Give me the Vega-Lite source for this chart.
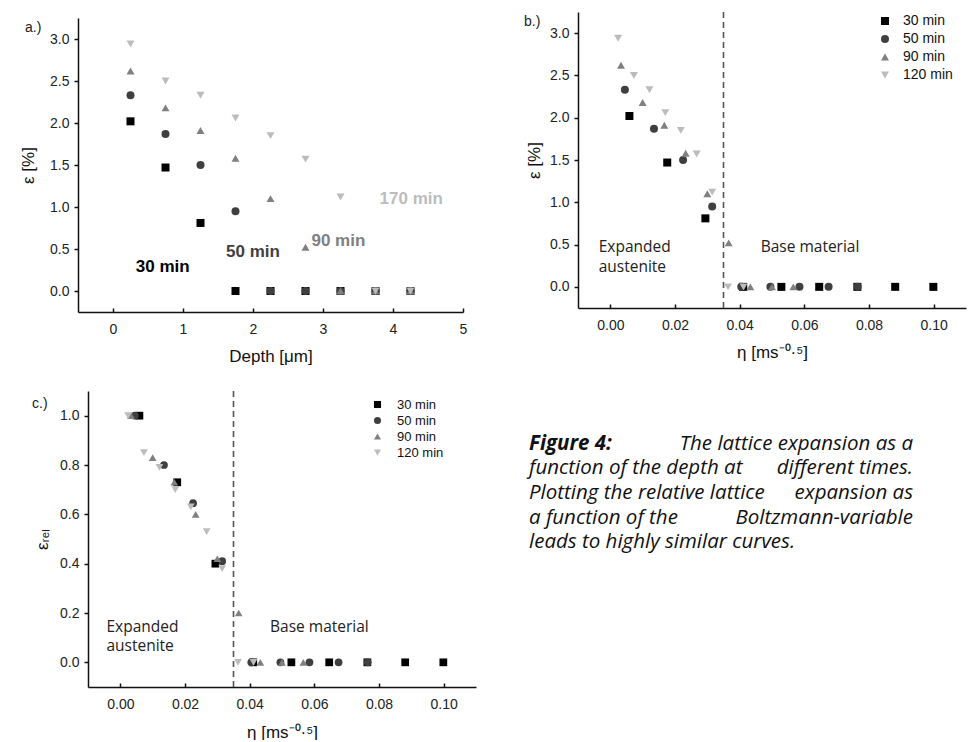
{
  "$schema": "https://vega.github.io/schema/vega-lite/v6.json",
  "background": "white",
  "padding": {"left": 19, "top": 11, "right": 2, "bottom": 0},
  "config": {
    "font": "Liberation Sans",
    "view": {"stroke": null},
    "axis": {
      "grid": false,
      "domainColor": "#111111",
      "domainWidth": 1.5,
      "tickColor": "#111111",
      "tickWidth": 1.5,
      "labelFont": "Liberation Sans",
      "labelFontSize": 14,
      "labelColor": "#222222",
      "labelOverlap": false,
      "labelFlush": false,
      "titleFont": "Liberation Sans",
      "titleFontSize": 17,
      "titleFontWeight": "normal",
      "titleColor": "#111111"
    },
    "axisX": {"labelPadding": 14, "titlePadding": 12, "tickSize": -4},
    "axisY": {"labelPadding": 5, "titlePadding": 10, "tickSize": 4},
    "legend": {"title": null, "labelFontSize": 14, "labelColor": "#111111", "symbolSize": 64, "symbolStrokeWidth": 0, "padding": 0, "rowPadding": 4, "labelOffset": 11}
  },
  "datasets": {
    "pts": [
      {"t": "30 min", "d": 0.25, "eta": 0.0059, "eps": 2.02, "rel": 1.0},
      {"t": "30 min", "d": 0.75, "eta": 0.0176, "eps": 1.47, "rel": 0.73},
      {"t": "30 min", "d": 1.25, "eta": 0.0294, "eps": 0.81, "rel": 0.40},
      {"t": "30 min", "d": 1.75, "eta": 0.0411, "eps": 0, "rel": 0},
      {"t": "30 min", "d": 2.25, "eta": 0.0529, "eps": 0, "rel": 0},
      {"t": "30 min", "d": 2.75, "eta": 0.0646, "eps": 0, "rel": 0},
      {"t": "30 min", "d": 3.25, "eta": 0.0764, "eps": 0, "rel": 0},
      {"t": "30 min", "d": 3.75, "eta": 0.0881, "eps": 0, "rel": 0},
      {"t": "30 min", "d": 4.25, "eta": 0.0999, "eps": 0, "rel": 0},
      {"t": "50 min", "d": 0.25, "eta": 0.0045, "eps": 2.33, "rel": 1.0},
      {"t": "50 min", "d": 0.75, "eta": 0.0135, "eps": 1.87, "rel": 0.80},
      {"t": "50 min", "d": 1.25, "eta": 0.0225, "eps": 1.50, "rel": 0.645},
      {"t": "50 min", "d": 1.75, "eta": 0.0315, "eps": 0.95, "rel": 0.41},
      {"t": "50 min", "d": 2.25, "eta": 0.0405, "eps": 0, "rel": 0},
      {"t": "50 min", "d": 2.75, "eta": 0.0495, "eps": 0, "rel": 0},
      {"t": "50 min", "d": 3.25, "eta": 0.0585, "eps": 0, "rel": 0},
      {"t": "50 min", "d": 3.75, "eta": 0.0675, "eps": 0, "rel": 0},
      {"t": "50 min", "d": 4.25, "eta": 0.0765, "eps": 0, "rel": 0},
      {"t": "90 min", "d": 0.25, "eta": 0.0033, "eps": 2.62, "rel": 1.0},
      {"t": "90 min", "d": 0.75, "eta": 0.0100, "eps": 2.18, "rel": 0.83},
      {"t": "90 min", "d": 1.25, "eta": 0.0167, "eps": 1.91, "rel": 0.73},
      {"t": "90 min", "d": 1.75, "eta": 0.0233, "eps": 1.58, "rel": 0.60},
      {"t": "90 min", "d": 2.25, "eta": 0.0300, "eps": 1.10, "rel": 0.42},
      {"t": "90 min", "d": 2.75, "eta": 0.0366, "eps": 0.52, "rel": 0.20},
      {"t": "90 min", "d": 3.25, "eta": 0.0433, "eps": 0, "rel": 0},
      {"t": "90 min", "d": 3.75, "eta": 0.0500, "eps": 0, "rel": 0},
      {"t": "90 min", "d": 4.25, "eta": 0.0566, "eps": 0, "rel": 0},
      {"t": "120 min", "d": 0.25, "eta": 0.0024, "eps": 2.94, "rel": 1.0},
      {"t": "120 min", "d": 0.75, "eta": 0.0073, "eps": 2.50, "rel": 0.85},
      {"t": "120 min", "d": 1.25, "eta": 0.0121, "eps": 2.33, "rel": 0.79},
      {"t": "120 min", "d": 1.75, "eta": 0.0170, "eps": 2.06, "rel": 0.70},
      {"t": "120 min", "d": 2.25, "eta": 0.0218, "eps": 1.85, "rel": 0.63},
      {"t": "120 min", "d": 2.75, "eta": 0.0267, "eps": 1.57, "rel": 0.53},
      {"t": "120 min", "d": 3.25, "eta": 0.0315, "eps": 1.12, "rel": 0.38},
      {"t": "120 min", "d": 3.75, "eta": 0.0364, "eps": 0, "rel": 0},
      {"t": "120 min", "d": 4.25, "eta": 0.0412, "eps": 0, "rel": 0}
    ]
  },
  "columns": 1,
  "align": "none",
  "spacing": 26,
  "resolve": {"legend": {"color": "independent", "shape": "independent"}},
  "concat": [
    {
      "spacing": 57,
      "resolve": {"legend": {"color": "independent", "shape": "independent"}},
      "hconcat": [
        {
          "spacing": 5,
          "resolve": {"legend": {"color": "independent", "shape": "independent"}},
          "vconcat": [
            {"width": 1, "height": 1, "view": {"fill": "white", "stroke": null}, "data": {"values": []}, "mark": "point"},
            {
              "width": 385,
              "height": 294,
              "layer": [
                {
                  "data": {"name": "pts"},
                  "mark": {"type": "point", "filled": true, "size": 64, "opacity": 1},
                  "encoding": {
                    "x": {"field": "d", "type": "quantitative", "scale": {"domain": [-0.5, 5], "nice": false, "zero": false}, "axis": {"title": "Depth [μm]", "titlePadding": 12, "format": "d", "values": [0, 1, 2, 3, 4, 5]}},
                    "y": {"field": "eps", "type": "quantitative", "scale": {"domain": [-0.25, 3.25], "nice": false, "zero": false}, "axis": {"title": "ε [%]", "titlePadding": 12, "format": ".1f", "values": [0, 0.5, 1, 1.5, 2, 2.5, 3]}},
                    "shape": {"field": "t", "type": "nominal", "scale": {"domain": ["30 min", "50 min", "90 min", "120 min"], "range": ["square", "circle", "triangle-up", "triangle-down"]}, "legend": null},
                    "color": {"field": "t", "type": "nominal", "scale": {"domain": ["30 min", "50 min", "90 min", "120 min"], "range": ["#000000", "#3f3f3f", "#808080", "#bcbcbc"]}, "legend": null}
                  }
                },
                {
                  "data": {"values": [
                    {"t": "30 min", "x": 0.71, "y": 0.29, "label": "30 min"},
                    {"t": "50 min", "x": 2.0, "y": 0.47, "label": "50 min"},
                    {"t": "90 min", "x": 3.22, "y": 0.60, "label": "90 min"},
                    {"t": "120 min", "x": 4.26, "y": 1.10, "label": "170 min"}
                  ]},
                  "mark": {"type": "text", "fontWeight": "bold", "fontSize": 17, "font": "Liberation Sans", "baseline": "middle", "align": "center"},
                  "encoding": {
                    "x": {"field": "x", "type": "quantitative"},
                    "y": {"field": "y", "type": "quantitative"},
                    "text": {"field": "label"},
                    "color": {"field": "t", "type": "nominal", "legend": null}
                  }
                },
                {
                  "data": {"values": [{"label": "a.)"}]},
                  "mark": {"type": "text", "fontSize": 14, "align": "left", "baseline": "middle", "dx": -53, "dy": 10, "color": "#222222", "clip": false},
                  "encoding": {
                    "x": {"datum": -0.5},
                    "y": {"datum": 3.25},
                    "text": {"field": "label"}
                  }
                }
              ]
            }
          ]
        },
        {
          "width": 388,
          "height": 296,
          "layer": [
            {
              "data": {"values": [{}]},
              "mark": {"type": "rule", "strokeDash": [6, 4], "color": "#555555", "strokeWidth": 1.6},
              "encoding": {"x": {"datum": 0.035}}
            },
            {
              "data": {"name": "pts"},
              "mark": {"type": "point", "filled": true, "size": 64, "opacity": 1},
              "encoding": {
                "x": {"field": "eta", "type": "quantitative", "scale": {"domain": [-0.01, 0.11], "nice": false, "zero": false}, "axis": {"title": "η [ms⁻⁰·⁵]", "format": ".2f", "values": [0, 0.02, 0.04, 0.06, 0.08, 0.1]}},
                "y": {"field": "eps", "type": "quantitative", "scale": {"domain": [-0.25, 3.25], "nice": false, "zero": false}, "axis": {"title": "ε [%]", "titlePadding": 6, "format": ".1f", "values": [0, 0.5, 1, 1.5, 2, 2.5, 3]}},
                "shape": {"field": "t", "type": "nominal", "scale": {"domain": ["30 min", "50 min", "90 min", "120 min"], "range": ["square", "circle", "triangle-up", "triangle-down"]}, "legend": {"orient": "none", "legendX": 300, "legendY": 2}},
                "color": {"field": "t", "type": "nominal", "scale": {"domain": ["30 min", "50 min", "90 min", "120 min"], "range": ["#000000", "#3f3f3f", "#808080", "#bcbcbc"]}, "legend": {"orient": "none", "legendX": 300, "legendY": 2}}
              }
            },
            {
              "data": {"values": [
                {"x": -0.0036, "y": 0.47, "label": "Expanded"},
                {"x": -0.0036, "y": 0.236, "label": "austenite"},
                {"x": 0.0465, "y": 0.47, "label": "Base material"}
              ]},
              "mark": {"type": "text", "font": "Open Sans", "fontSize": 15.5, "align": "left", "baseline": "middle", "color": "#222222"},
              "encoding": {
                "x": {"field": "x", "type": "quantitative"},
                "y": {"field": "y", "type": "quantitative"},
                "text": {"field": "label"}
              }
            },
            {
              "data": {"values": [{"label": "b.)"}]},
              "mark": {"type": "text", "fontSize": 14, "align": "left", "baseline": "middle", "dx": -54, "dy": 10, "color": "#222222", "clip": false},
              "encoding": {
                "x": {"datum": -0.01},
                "y": {"datum": 3.25},
                "text": {"field": "label"}
              }
            }
          ]
        }
      ]
    },
    {
      "spacing": -47,
      "resolve": {"legend": {"color": "independent", "shape": "independent"}},
      "hconcat": [
        {"width": 1, "height": 1, "view": {"fill": "white", "stroke": null}, "data": {"values": []}, "mark": "point"},
        {
          "spacing": 53,
          "resolve": {"legend": {"color": "independent", "shape": "independent"}},
          "hconcat": [
            {
              "width": 388,
              "height": 296,
              "layer": [
                {
                  "data": {"values": [{}]},
                  "mark": {"type": "rule", "strokeDash": [6, 4], "color": "#555555", "strokeWidth": 1.6},
                  "encoding": {"x": {"datum": 0.035}}
                },
                {
                  "data": {"name": "pts"},
                  "mark": {"type": "point", "filled": true, "size": 60, "opacity": 1},
                  "encoding": {
                    "x": {"field": "eta", "type": "quantitative", "scale": {"domain": [-0.01, 0.11], "nice": false, "zero": false}, "axis": {"title": "η [ms⁻⁰·⁵]", "titlePadding": 13, "format": ".2f", "values": [0, 0.02, 0.04, 0.06, 0.08, 0.1]}},
                    "y": {"field": "rel", "type": "quantitative", "scale": {"domain": [-0.1, 1.1], "nice": false, "zero": false}, "axis": {"title": "εᵣₑₗ", "titlePadding": 8, "format": ".1f", "values": [0, 0.2, 0.4, 0.6, 0.8, 1.0]}},
                    "shape": {"field": "t", "type": "nominal", "scale": {"domain": ["30 min", "50 min", "90 min", "120 min"], "range": ["square", "circle", "triangle-up", "triangle-down"]}, "legend": {"orient": "none", "legendX": 283, "legendY": 7, "labelFontSize": 13, "rowPadding": 2, "symbolSize": 50, "labelOffset": 13}},
                    "color": {"field": "t", "type": "nominal", "scale": {"domain": ["30 min", "50 min", "90 min", "120 min"], "range": ["#000000", "#3f3f3f", "#808080", "#bcbcbc"]}, "legend": {"orient": "none", "legendX": 283, "legendY": 7, "labelFontSize": 13, "rowPadding": 2, "symbolSize": 50, "labelOffset": 13}}
                  }
                },
                {
                  "data": {"values": [
                    {"x": -0.0043, "y": 0.143, "label": "Expanded"},
                    {"x": -0.0043, "y": 0.066, "label": "austenite"},
                    {"x": 0.0463, "y": 0.143, "label": "Base material"}
                  ]},
                  "mark": {"type": "text", "font": "Open Sans", "fontSize": 15.5, "align": "left", "baseline": "middle", "color": "#222222"},
                  "encoding": {
                    "x": {"field": "x", "type": "quantitative"},
                    "y": {"field": "y", "type": "quantitative"},
                    "text": {"field": "label"}
                  }
                },
                {
                  "data": {"values": [{"label": "c.)"}]},
                  "mark": {"type": "text", "fontSize": 14, "align": "left", "baseline": "middle", "dx": -56, "dy": 13, "color": "#222222", "clip": false},
                  "encoding": {
                    "x": {"datum": -0.01},
                    "y": {"datum": 1.1},
                    "text": {"field": "label"}
                  }
                }
              ]
            },
            {
              "width": 384,
              "height": 296,
              "layer": [
                {
                  "data": {"values": [{"line": 1, "txt": "Figure 4:"}]},
                  "mark": {"type": "text", "font": "Open Sans", "fontSize": 20.5, "fontStyle": "italic", "fontWeight": "bold", "align": "left", "baseline": "middle", "color": "#111111"},
                  "encoding": {
                    "x": {"datum": 0, "type": "quantitative", "scale": {"domain": [0, 1]}, "axis": null},
                    "y": {"field": "line", "type": "quantitative", "scale": {"domain": [-1.163, 10.918], "reverse": true, "nice": false, "zero": false}, "axis": null},
                    "text": {"field": "txt"}
                  }
                },
                {
                  "data": {"values": [
                    {"line": 2, "txt": "function of the depth at"},
                    {"line": 3, "txt": "Plotting the relative lattice"},
                    {"line": 4, "txt": "a function of the"},
                    {"line": 5, "txt": "leads to highly similar curves."}
                  ]},
                  "mark": {"type": "text", "font": "Open Sans", "fontSize": 20.5, "fontStyle": "italic", "align": "left", "baseline": "middle", "color": "#111111"},
                  "encoding": {
                    "x": {"datum": 0, "type": "quantitative", "axis": null},
                    "y": {"field": "line", "type": "quantitative", "axis": null},
                    "text": {"field": "txt"}
                  }
                },
                {
                  "data": {"values": [
                    {"line": 1, "txt": "The lattice expansion as a"},
                    {"line": 2, "txt": "different times."},
                    {"line": 3, "txt": "expansion as"},
                    {"line": 4, "txt": "Boltzmann-variable"}
                  ]},
                  "mark": {"type": "text", "font": "Open Sans", "fontSize": 20.5, "fontStyle": "italic", "align": "right", "baseline": "middle", "color": "#111111"},
                  "encoding": {
                    "x": {"datum": 1, "type": "quantitative", "axis": null},
                    "y": {"field": "line", "type": "quantitative", "axis": null},
                    "text": {"field": "txt"}
                  }
                }
              ]
            }
          ]
        }
      ]
    }
  ]
}
